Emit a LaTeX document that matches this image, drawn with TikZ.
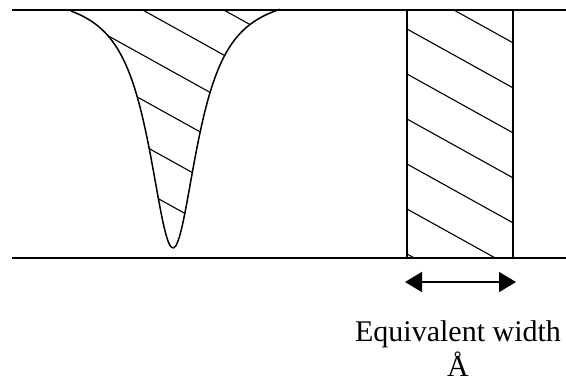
\documentclass[tikz,border=0pt]{standalone}
\usepackage{fontspec}
\setmainfont{Liberation Serif}
\usetikzlibrary{arrows.meta, positioning}

\begin{document}
\begin{tikzpicture}[x=1bp, y=-1bp,
    continuum/.style={line width=1.7bp},
    outline/.style={line width=1.5bp},
    hatch/.style={line width=1.1bp},
    widtharrow/.style={{Triangle[length=17bp,width=20bp]}-{Triangle[length=17bp,width=20bp]}, line width=1.6bp},
    caption/.style={align=center, font=\fontsize{30bp}{35bp}\selectfont, inner sep=0pt}]

    \useasboundingbox (0,0) rectangle (566,383);

    % line profile, hatched
    \begin{scope}
        \clip plot[domain=-102:107, samples=121, smooth] ({173+\x},{10+238*(1/(1+(\x/30)^2)-0.0755)/0.9245}) -- cycle;
        \foreach \y in {-31,14,...,239}
            \draw[hatch] (40,\y-61) -- ++(300,166.5);
    \end{scope}
    \draw[outline] plot[domain=-102:107, samples=121, smooth] ({173+\x},{10+238*(1/(1+(\x/30)^2)-0.0755)/0.9245});

    % equivalent width box, hatched
    \begin{scope}
        \clip (407,10) rectangle (513,258);
        \foreach \y in {-16,29,...,254}
            \draw[hatch] (407,\y) -- ++(120,66.6);
    \end{scope}
    \draw[outline] (407,10) rectangle (513,258);

    % continuum
    \coordinate (topl) at (12,10);
    \coordinate (topr) at (566,10);
    \coordinate (botl) at (12,258);
    \coordinate (botr) at (566,258);
    \draw[continuum] (topl) -- (topr);
    \draw[continuum] (botl) -- (botr);

    \coordinate (wl) at (405,282);
    \coordinate (wr) at (516,282);
    \draw[widtharrow] (wl) -- (wr);

    \node (eqw) [caption, anchor=north] at (458,320) {Equivalent width\\Å};

\end{tikzpicture}
\end{document}
